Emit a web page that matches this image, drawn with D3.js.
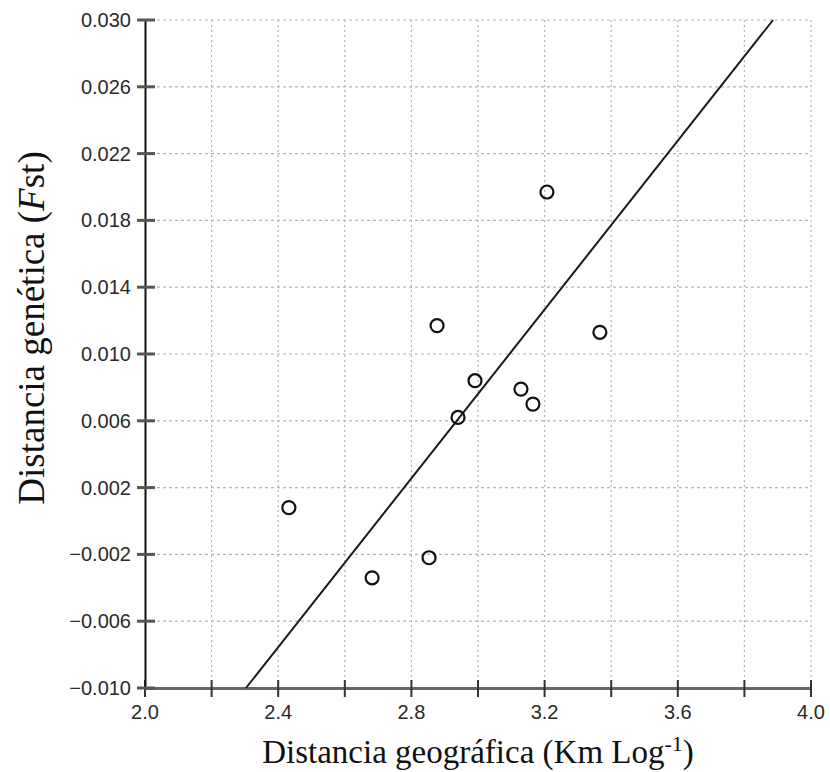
<!DOCTYPE html>
<html>
<head>
<meta charset="utf-8">
<script src="https://cdn.jsdelivr.net/npm/d3@7"></script>
<style>
  body { margin: 0; background: #fff; }
  .tick-label { font-family: "Liberation Sans", Arial, sans-serif; font-size: 20px; fill: #2a2a2a; }
  .axis-title { font-family: "Liberation Serif", "DejaVu Serif", serif; font-size: 33px; fill: #111; }
</style>
</head>
<body>
<div id="chart"></div>
<script>
// data
var geoDist = [3.207, 2.877, 3.366, 2.991, 3.129, 3.165, 2.940, 2.432, 2.682, 2.853];
var fstDist = [0.0197, 0.0117, 0.0113, 0.0084, 0.0079, 0.0070, 0.0062, 0.0008, -0.0034, -0.0022];

// regression line y = slope * x + intercept
var fitSlope = 0.02527;
var fitIntercept = -0.0682;

var xTicks = [2.0, 2.4, 2.8, 3.2, 3.6, 4.0];
var xMinor = d3.range(0, 11).map(d => 2.0 + d * 0.2);
var yTicks = [-0.010, -0.006, -0.002, 0.002, 0.006, 0.010, 0.014, 0.018, 0.022, 0.026, 0.030];

var W = 830, H = 772;
var margin = {top: 20, right: 19, bottom: 84, left: 145},
  width = W - margin.left - margin.right,
  height = H - margin.top - margin.bottom;

var svg = d3.select("#chart")
.append("svg")
  .attr("width", W)
  .attr("height", H)
.append("g")
  .attr("transform", "translate(" + margin.left + "," + margin.top + ")");

var x = d3.scaleLinear().domain([2.0, 4.0]).range([0, width]);
var y = d3.scaleLinear().domain([-0.010, 0.030]).range([height, 0]);

// grid
svg.append("g")
  .selectAll("line")
  .data(xMinor.slice(1))
  .enter().append("line")
  .attr("x1", d => x(d)).attr("x2", d => x(d))
  .attr("y1", 0).attr("y2", height)
  .attr("stroke", "#b5b5b5").attr("stroke-width", 1.2)
  .attr("stroke-dasharray", "2,3");

svg.append("g")
  .selectAll("line")
  .data(yTicks.slice(1))
  .enter().append("line")
  .attr("x1", 0).attr("x2", width)
  .attr("y1", d => y(d)).attr("y2", d => y(d))
  .attr("stroke", "#b5b5b5").attr("stroke-width", 1.2)
  .attr("stroke-dasharray", "3,3");

// x axis
var xAxis = svg.append("g")
  .attr("transform", "translate(0," + height + ")")
  .call(d3.axisBottom(x).tickValues(xMinor).tickSize(0).tickFormat(""));
xAxis.select(".domain").attr("stroke", "#666").attr("stroke-width", 3);
xAxis.selectAll(".tick line").remove();

xAxis.selectAll(".mtick")
  .data(xMinor)
  .enter().append("line")
  .attr("x1", d => x(d)).attr("x2", d => x(d))
  .attr("y1", -8).attr("y2", 9)
  .attr("stroke", "#333").attr("stroke-width", 2);

xAxis.selectAll(".xl")
  .data(xTicks)
  .enter().append("text")
  .attr("class", "tick-label")
  .attr("x", d => x(d))
  .attr("y", 31)
  .attr("text-anchor", "middle")
  .text(d => d3.format(".1f")(d));

// y axis
var yAxis = svg.append("g")
  .call(d3.axisLeft(y).tickValues(yTicks).tickSize(0).tickFormat(""));
yAxis.select(".domain").attr("stroke", "#111").attr("stroke-width", 2);
yAxis.selectAll(".tick line").remove();

yAxis.selectAll(".ytk")
  .data(yTicks)
  .enter().append("line")
  .attr("x1", -8).attr("x2", 10)
  .attr("y1", d => y(d)).attr("y2", d => y(d))
  .attr("stroke", "#555").attr("stroke-width", 3);

yAxis.selectAll(".yl")
  .data(yTicks)
  .enter().append("text")
  .attr("class", "tick-label")
  .attr("x", -14)
  .attr("y", d => y(d))
  .attr("dy", "0.35em")
  .attr("text-anchor", "end")
  .text(d => d3.format(".3f")(d).replace("-", "\u2212"));

// regression line, clipped to the plotted range
var xStart = (y.domain()[0] - fitIntercept) / fitSlope,
  xEnd = Math.min(4.0, (y.domain()[1] - fitIntercept) / fitSlope);
svg.append("line")
  .attr("x1", x(xStart)).attr("y1", y(fitSlope * xStart + fitIntercept))
  .attr("x2", x(xEnd)).attr("y2", y(fitSlope * xEnd + fitIntercept))
  .attr("stroke", "#1a1a1a").attr("stroke-width", 2);

// points
svg.selectAll(".pt")
  .data(geoDist)
  .enter().append("circle")
  .attr("cx", d => x(d))
  .attr("cy", (d, i) => y(fstDist[i]))
  .attr("r", 6.5)
  .attr("fill", "none")
  .attr("stroke", "#111")
  .attr("stroke-width", 2.2);

// titles
var xt = svg.append("text")
  .attr("class", "axis-title")
  .attr("x", width / 2)
  .attr("y", height + 75)
  .attr("text-anchor", "middle");
xt.append("tspan").text("Distancia geográfica (Km Log");
xt.append("tspan").attr("dy", -12).attr("font-size", "22px").text("-1");
xt.append("tspan").attr("dy", 12).text(")");

var yt = svg.append("text")
  .attr("class", "axis-title")
  .style("font-size", "37px")
  .attr("transform", "translate(" + (-101) + "," + (height / 2 - 26) + ") rotate(-90)")
  .attr("text-anchor", "middle");
yt.append("tspan").text("Distancia genética (");
yt.append("tspan").attr("font-style", "italic").text("F");
yt.append("tspan").text("st)");
</script>
</body>
</html>
